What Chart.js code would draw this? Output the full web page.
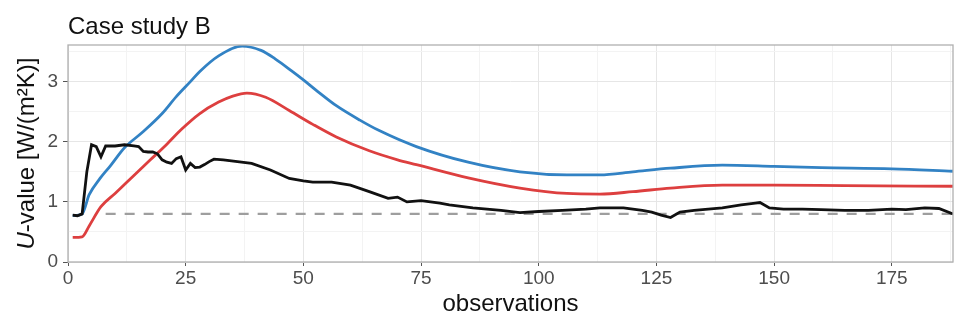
<!DOCTYPE html>
<html>
<head>
<meta charset="utf-8">
<script src="https://cdn.jsdelivr.net/npm/chart.js@4"></script>
<style>
  html, body { margin: 0; padding: 0; background: #fff; }
</style>
</head>
<body>
<canvas id="chart" width="955" height="321"></canvas>
<script>
// ── DATA ──
const chartTitle = 'Case study B';

const blackObs = [1,2,3,4,5,6,7,8,9,10,12,14,15,16,17,18,19,20,21,22,23,24,25,26,27,28,29,30,31,33,36,39,43,47,50,52,56,60,64,68,70,72,75,79,81,86,92,96,100,105,110,113,118,122,124,126,128,130,133,136,139,143,146,147,149,152,156,160,165,170,175,178,182,185,188];
const blackVal = [0.78,0.77,0.8,1.5,1.95,1.92,1.75,1.93,1.93,1.93,1.95,1.93,1.92,1.84,1.83,1.83,1.8,1.7,1.66,1.64,1.72,1.75,1.53,1.64,1.57,1.58,1.62,1.67,1.71,1.7,1.67,1.64,1.53,1.39,1.35,1.33,1.33,1.28,1.17,1.06,1.08,1.0,1.02,0.98,0.95,0.9,0.86,0.82,0.84,0.86,0.88,0.9,0.9,0.86,0.83,0.78,0.74,0.83,0.86,0.88,0.9,0.95,0.98,0.99,0.9,0.88,0.88,0.87,0.86,0.86,0.88,0.87,0.9,0.89,0.8];

const blueObs = [1,3,4.5,6.8,9,12,16,20,23,26,28,32,37,41,44,47.5,50,53,57,62,66,74,85,96,106,113,120,128,139,150,160,175,188];
const blueVal = [0.77,0.8,1.12,1.39,1.6,1.9,2.17,2.47,2.75,3.0,3.17,3.43,3.59,3.52,3.38,3.18,3.03,2.84,2.6,2.36,2.19,1.92,1.66,1.5,1.45,1.45,1.5,1.56,1.61,1.59,1.57,1.55,1.51];

const redObs = [1,3,4.5,7,10,14,17.5,21,24,28,32,35,38,42,47,52,57,64,70,74,85,96,106,113,120,128,139,150,165,188];
const redVal = [0.41,0.42,0.6,0.92,1.14,1.44,1.7,1.96,2.2,2.47,2.66,2.76,2.81,2.74,2.52,2.29,2.08,1.85,1.7,1.62,1.4,1.23,1.14,1.13,1.17,1.23,1.28,1.28,1.27,1.26];

const refObs = [8, 188];
const refVal = [0.8, 0.8];

const xTicks = [0,12.5,25,37.5,50,62.5,75,87.5,100,112.5,125,137.5,150,162.5,175,187.5];
const yTicks = [0,0.5,1,1.5,2,2.5,3,3.5];

const FONT = '"Liberation Sans", Arial, sans-serif';

function pts(xs, ys) {
  return xs.map((x, i) => ({ x: x, y: ys[i] }));
}

// ── PANEL DECOR: border, title, y-axis label with italic U ──
const decor = {
  id: 'decor',
  afterDraw(chart) {
    const { ctx, chartArea: a } = chart;
    ctx.save();
    ctx.strokeStyle = '#b0b0b0';
    ctx.lineWidth = 1.3;
    ctx.strokeRect(a.left, a.top, a.right - a.left, a.bottom - a.top);

    ctx.fillStyle = '#111';
    ctx.textAlign = 'left';
    ctx.textBaseline = 'alphabetic';
    ctx.font = '24px ' + FONT;
    ctx.fillText(chartTitle, a.left, 34);

    const partA = 'U', partB = '-value [W/(m²K)]';
    ctx.font = 'italic 24px ' + FONT;
    const wA = ctx.measureText(partA).width;
    ctx.font = '24px ' + FONT;
    const wB = ctx.measureText(partB).width;
    ctx.translate(27, (a.top + a.bottom) / 2);
    ctx.rotate(-Math.PI / 2);
    ctx.textBaseline = 'middle';
    const start = -(wA + wB) / 2;
    ctx.font = 'italic 24px ' + FONT;
    ctx.fillText(partA, start, 0);
    ctx.font = '24px ' + FONT;
    ctx.fillText(partB, start + wA, 0);
    ctx.restore();
  }
};

new Chart(document.getElementById('chart'), {
  type: 'line',
  data: {
    datasets: [
      { data: pts(blackObs, blackVal), borderColor: '#111', borderWidth: 2.8, tension: 0, pointRadius: 0 },
      { data: pts(blueObs, blueVal), borderColor: '#3282c4', borderWidth: 2.8, cubicInterpolationMode: 'monotone', pointRadius: 0 },
      { data: pts(redObs, redVal), borderColor: '#dd3f3f', borderWidth: 2.8, cubicInterpolationMode: 'monotone', pointRadius: 0 },
      { data: pts(refObs, refVal), borderColor: '#9e9e9e', borderWidth: 2.4, borderDash: [10, 9], pointRadius: 0 }
    ]
  },
  options: {
    responsive: false,
    animation: false,
    layout: { padding: { left: 0, right: 2, top: 45, bottom: 0 } },
    plugins: { legend: { display: false }, tooltip: { enabled: false } },
    scales: {
      x: {
        type: 'linear', min: 0, max: 188,
        afterBuildTicks: s => { s.ticks = xTicks.map(v => ({ value: v })); },
        afterFit: s => { s.height = 59; },
        border: { display: false },
        grid: {
          color: c => (c.tick && c.tick.value % 25 === 0) ? '#e6e6e6' : '#f3f3f3',
          tickColor: c => (c.tick && c.tick.value % 25 === 0) ? '#555' : 'rgba(0,0,0,0)',
          tickLength: 4, lineWidth: 1
        },
        ticks: {
          autoSkip: false, maxRotation: 0, padding: 1,
          color: '#4d4d4d', font: { family: FONT, size: 19 },
          callback: v => (v % 25 === 0 ? String(v) : '')
        },
        title: { display: true, text: 'observations', color: '#111', font: { family: FONT, size: 24 }, padding: { top: 0, bottom: 2 } }
      },
      y: {
        type: 'linear', min: 0, max: 3.61,
        afterBuildTicks: s => { s.ticks = yTicks.map(v => ({ value: v })); },
        afterFit: s => { s.width = 68; },
        border: { display: false },
        grid: {
          color: c => (c.tick && c.tick.value % 1 === 0) ? '#e6e6e6' : '#f3f3f3',
          tickColor: c => (c.tick && c.tick.value % 1 === 0) ? '#555' : 'rgba(0,0,0,0)',
          tickLength: 5, lineWidth: 1
        },
        ticks: {
          autoSkip: false, padding: 5,
          color: '#4d4d4d', font: { family: FONT, size: 19 },
          callback: v => (v % 1 === 0 ? String(v) : '')
        }
      }
    }
  },
  plugins: [decor]
});
</script>
</body>
</html>
